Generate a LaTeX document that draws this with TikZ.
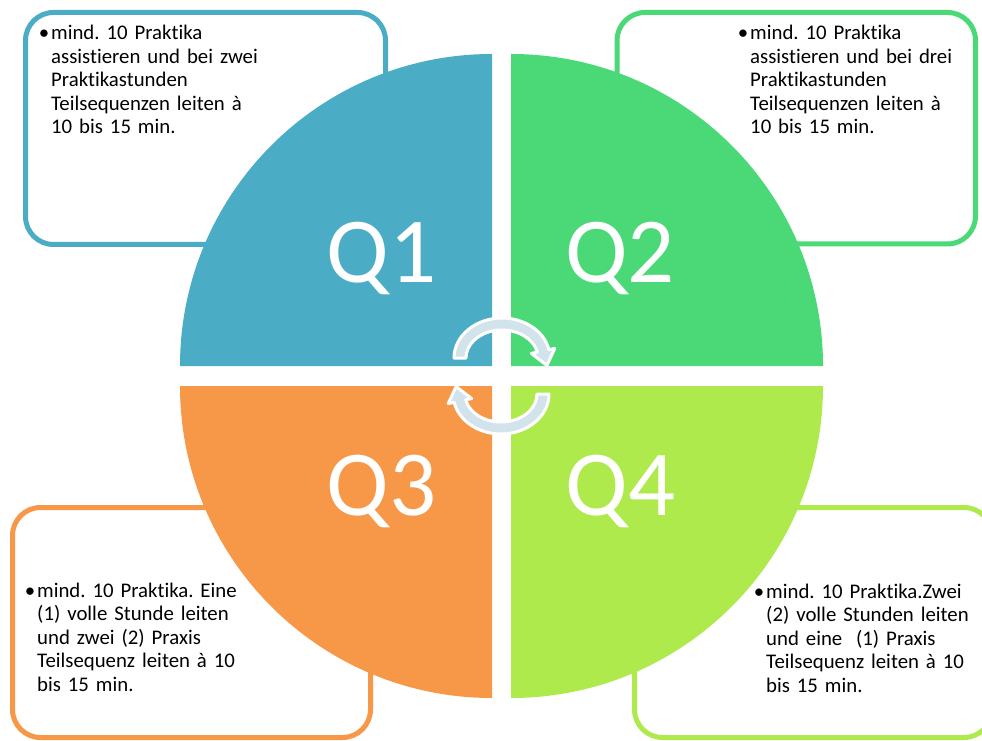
\documentclass[tikz,border=0pt]{standalone}
\usepackage{fontspec}
\setmainfont{Carlito}[Ligatures=NoCommon]
\frenchspacing
\definecolor{qone}{HTML}{4BACC6}
\definecolor{qtwo}{HTML}{4BD977}
\definecolor{qthree}{HTML}{F79848}
\definecolor{qfour}{HTML}{AEEA4B}
\definecolor{arrowfill}{HTML}{D3E3EB}
\begin{document}
\begin{tikzpicture}[
		x=1pt,
		y=1pt,
		every node/.style={
				inner sep=0pt
			},
		infobox/.style={
				line width=5pt,
				rounded corners=28pt
			},
		qlabel/.style={
				anchor=base,
				text=white,
				font=\fontsize{93}{93}\selectfont
			},
		infotext/.style={
				anchor=base west,
				text width=240pt,
				align=left,
				font=\fontsize{20.8}{23.5}\selectfont
			},
		turnarrow/.pic={
				\filldraw[fill=arrowfill, draw=white, line width=3pt, line join=round]
				(180:48 and 40) arc[start angle=180, end angle=12, x radius=48, y radius=40]
				-- (12:54 and 46) -- (44.9,-7.4) -- (12:30 and 22) -- (12:36 and 28)
				arc[start angle=12, end angle=180, x radius=36, y radius=28] -- cycle;
			}
	]
	\useasboundingbox (0,0) rectangle (982,740);
	% boxes behind the circle
	\draw[infobox, qone] (25.5,727.5) rectangle (385.5,495.5);
	\draw[infobox, qtwo] (617,727.5) rectangle (975.5,496);
	\draw[infobox, qthree] (12.5,232.5) rectangle (370.5,2.5);
	\draw[infobox, qfour] (634.5,232.5) rectangle (992,2.5);
	% quarters
	\fill[qone] (492,374) -- (180,374) arc[start angle=180, end angle=90, radius=312] -- cycle;
	\fill[qtwo] (511,374) -- (511,686) arc[start angle=90, end angle=0, radius=312] -- cycle;
	\fill[qthree] (492,354) -- (492,42) arc[start angle=270, end angle=180, radius=312] -- cycle;
	\fill[qfour] (511,354) -- (823,354) arc[start angle=0, end angle=-90, radius=312] -- cycle;
	\node[qlabel] (q1label) at (381.5,457) {Q1};
	\node[qlabel] (q2label) at (620,457) {Q2};
	\node[qlabel] (q3label) at (381.5,225) {Q3};
	\node[qlabel] (q4label) at (620.5,225) {Q4};
	% turning arrows
	\pic at (502,382) {turnarrow};
	\pic[rotate=180] at (501,346) {turnarrow};
	% texts
	\node[infotext] (q1text) at (51,700) {\llap{\textbullet\hspace{2pt}}mind. 10 Praktika\\
		assistieren und bei zwei\\ Praktikastunden\\ Teilsequenzen leiten à\\ 10 bis 15 min.};
	\node[infotext] (q2text) at (750,700) {\llap{\textbullet\hspace{2pt}}mind. 10 Praktika\\
		assistieren und bei drei\\ Praktikastunden\\ Teilsequenzen leiten à\\ 10 bis 15 min.};
	\node[infotext] (q3text) at (37,143) {\llap{\textbullet\hspace{2pt}}mind. 10 Praktika. Eine\\
		(1) volle Stunde leiten\\ und zwei (2) Praxis\\ Teilsequenz leiten à 10\\ bis 15 min.};
	\node[infotext] (q4text) at (766,142) {\llap{\textbullet\hspace{2pt}}mind. 10 Praktika.Zwei\\
		(2) volle Stunden leiten\\ und eine\ \ (1) Praxis\\ Teilsequenz leiten à 10\\ bis 15 min.};
\end{tikzpicture}
\end{document}
